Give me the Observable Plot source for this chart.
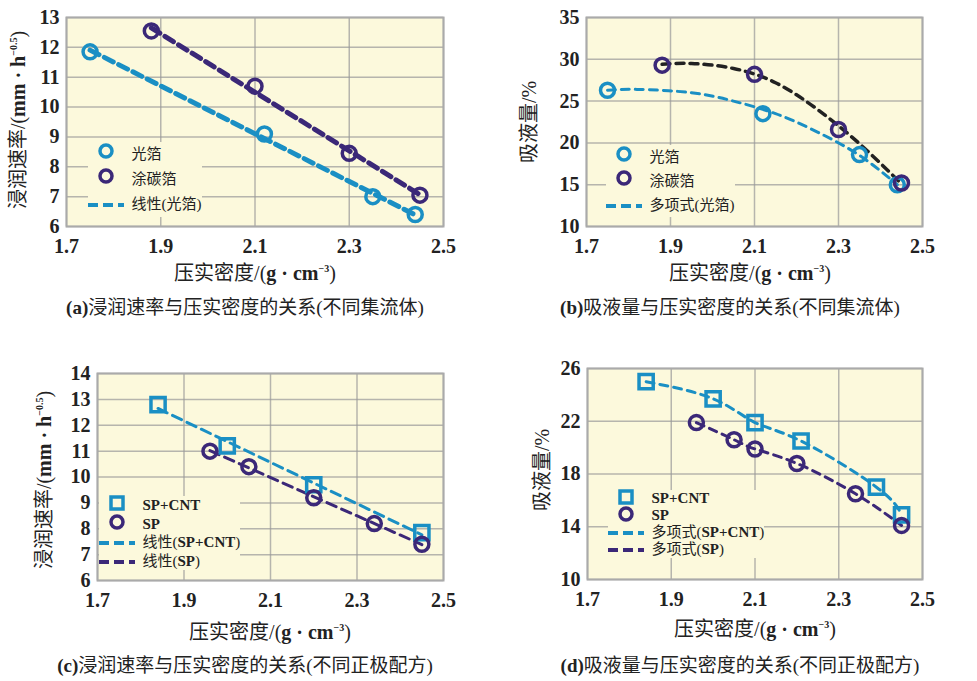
<!DOCTYPE html><html><head><meta charset="utf-8">
<script src="https://cdn.jsdelivr.net/npm/d3@7"></script>
<script src="https://cdn.jsdelivr.net/npm/@observablehq/plot@0.6"></script>
<style>
body{margin:0;background:#fff;font-family:"Liberation Serif","Noto Sans CJK SC",serif;}
#root{position:relative;width:977px;height:681px;}
.p{position:absolute;}
.t{position:absolute;white-space:nowrap;color:#222;font-family:"Liberation Serif","Noto Sans CJK SC",serif;}
.xl{font-size:20px;transform:translateX(-50%);}
.yl{font-size:20px;transform:translate(-50%,-50%) rotate(-90deg);}
.cap{font-size:19px;transform:translateX(-50%);}
.lg{position:absolute;background:#fcf9dc;font-size:15px;color:#222;}
.lg div{height:24px;line-height:24px;display:flex;align-items:center;}
.lg i{display:inline-block;width:36px;text-align:center;font-style:normal;}
</style></head><body><div id="root"></div>
<script>
const CYAN="#1a8fc4", PURPLE="#3b2878", BLACK="#222";
// (a)
const aFoilX=[1.75,2.12,2.35,2.44], aFoilY=[11.85,9.1,7.0,6.4];
const aCarbX=[1.88,2.1,2.3,2.45], aCarbY=[12.55,10.7,8.45,7.05];
// (b)
const bFoilX=[1.75,2.12,2.35,2.44], bFoilY=[26.3,23.5,18.6,15.0];
const bCarbX=[1.88,2.1,2.3,2.45], bCarbY=[29.3,28.2,21.6,15.2];
const bFitFoilX=[1.75,1.82,1.95,2.05,2.15,2.25,2.35,2.44], bFitFoilY=[26.3,26.4,26.0,25.0,23.5,21.3,18.5,15.0];
const bFitCarbX=[1.88,1.95,2.05,2.15,2.25,2.35,2.45], bFitCarbY=[29.4,29.5,28.9,27.2,24.0,19.9,15.1];
// (c)
const cCntX=[1.84,2.0,2.2,2.45], cCntY=[12.8,11.2,9.7,7.85];
const cSpX=[1.96,2.05,2.2,2.34,2.45], cSpY=[11.0,10.4,9.2,8.2,7.4];
// (d)
const dCntX=[1.84,2.0,2.1,2.21,2.39,2.45], dCntY=[25.0,23.7,21.9,20.5,17.0,14.9];
const dSpX=[1.96,2.05,2.1,2.2,2.34,2.45], dSpY=[21.9,20.6,19.9,18.8,16.5,14.1];
const xTicks=[1.7,1.9,2.1,2.3,2.5];

const zip=(xs,ys)=>xs.map((x,i)=>({x,y:ys[i]}));
const root=document.getElementById("root");
const M={l:60,r:30,t:15,b:35};
function panel(f,ydom,yticks,marks){
  const W=f.R-f.L+M.l+M.r,H=f.B-f.T+M.t+M.b;
  const svg=Plot.plot({width:W,height:H,marginLeft:M.l,marginRight:M.r,marginTop:M.t,marginBottom:M.b,
    style:{background:"transparent",fontFamily:"Liberation Serif",fontSize:"20px",fontWeight:"bold",color:"#222",overflow:"visible"},
    x:{domain:[1.7,2.5],ticks:xTicks,tickFormat:d3.format(".1f"),tickSize:0,tickPadding:12,label:null},
    y:{domain:ydom,ticks:yticks,tickFormat:d3.format("d"),tickSize:0,tickPadding:7,label:null},
    marks:[Plot.frame({fill:"#fcf9dc",stroke:"none"}),Plot.gridX(xTicks,{stroke:"#999",strokeOpacity:0.7,strokeWidth:1.5}),
      Plot.gridY(yticks,{stroke:"#999",strokeOpacity:0.7,strokeWidth:1.5}),Plot.frame({stroke:"#aaa",strokeWidth:2}),...marks]});
  svg.classList.add("p");svg.style.left=(f.L-M.l)+"px";svg.style.top=(f.T-M.t)+"px";
  root.appendChild(svg);
}
const circ=(d,c)=>Plot.dot(d,{x:"x",y:"y",r:7,stroke:c,strokeWidth:3.5,fill:"none"});
const sq=(d,c)=>Plot.dot(d,{x:"x",y:"y",r:8,symbol:"square",stroke:c,strokeWidth:3.5,fill:"none"});
const reg=(d,c,w)=>Plot.linearRegressionY(d,{x:"x",y:"y",stroke:c,strokeWidth:w,strokeDasharray:"10,6",ci:0});
const crv=(d,c,w)=>Plot.line(d,{x:"x",y:"y",stroke:c,strokeWidth:w,strokeDasharray:"8,6",curve:"natural"});

panel({L:66,R:443,T:17,B:226},[6,13],d3.range(6,14),
  [reg(zip(aFoilX,aFoilY),CYAN,5),reg(zip(aCarbX,aCarbY),PURPLE,5),circ(zip(aFoilX,aFoilY),CYAN),circ(zip(aCarbX,aCarbY),PURPLE)]);
panel({L:586,R:922,T:17,B:226},[10,35],d3.range(10,36,5),
  [crv(zip(bFitFoilX,bFitFoilY),CYAN,3),crv(zip(bFitCarbX,bFitCarbY),BLACK,3.5),circ(zip(bFoilX,bFoilY),CYAN),circ(zip(bCarbX,bCarbY),PURPLE)]);
panel({L:97,R:443,T:373,B:580},[6,14],d3.range(6,15),
  [reg(zip(cCntX,cCntY),CYAN,3),reg(zip(cSpX,cSpY),PURPLE,3),sq(zip(cCntX,cCntY),CYAN),circ(zip(cSpX,cSpY),PURPLE)]);
panel({L:587,R:922,T:368,B:579},[10,26],[10,14,18,22,26],
  [crv(zip(dCntX,dCntY),CYAN,3),crv(zip(dSpX,dSpY),PURPLE,3),sq(zip(dCntX,dCntY),CYAN),circ(zip(dSpX,dSpY),PURPLE)]);

function txt(cls,x,y,html){const d=document.createElement("div");d.className="t "+cls;d.style.left=x+"px";d.style.top=y+"px";d.innerHTML=html;root.appendChild(d);}
const xlab="压实密度/(<b>g · cm<sup style='font-size:10px'>−3</sup></b>)";
const ylab1="浸润速率/(<b>mm · h<sup style='font-size:10px'>−0.5</sup></b>)";
const ylab2="吸液量/%";
txt("xl",255,257,xlab);txt("xl",750,257,xlab);txt("xl",270,616,xlab);txt("xl",755,613,xlab);
txt("yl",16,120,ylab1);txt("yl",527,122,ylab2);txt("yl",42,480,ylab1);txt("yl",540,470,ylab2);
txt("cap",245,292,"<b>(a)</b>浸润速率与压实密度的关系(不同集流体)");
txt("cap",730,292,"<b>(b)</b>吸液量与压实密度的关系(不同集流体)");
txt("cap",245,650,"<b>(c)</b>浸润速率与压实密度的关系(不同正极配方)");
txt("cap",740,650,"<b>(d)</b>吸液量与压实密度的关系(不同正极配方)");

const O=c=>`<svg width="18" height="18"><circle cx="9" cy="9" r="6" fill="none" stroke="${c}" stroke-width="3.5"/></svg>`;
const S=c=>`<svg width="18" height="18"><rect x="3" y="3" width="12" height="12" fill="none" stroke="${c}" stroke-width="3.5"/></svg>`;
const L=c=>`<svg width="36" height="8"><line x1="0" y1="4" x2="36" y2="4" stroke="${c}" stroke-width="4" stroke-dasharray="10,5"/></svg>`;
function legend(x,y,rows,rh){const d=document.createElement("div");d.className="lg";d.style.left=x+"px";d.style.top=y+"px";
  d.innerHTML=rows.map(r=>`<div style="height:${rh}px;line-height:${rh}px"><i>${r[0]}</i>&nbsp;&nbsp;${r[1]}</div>`).join("");root.appendChild(d);}
legend(88,142,[[O(CYAN),"光箔"],[O(PURPLE),"涂碳箔"],[L(CYAN),"线性(光箔)"]],25);
legend(606,145,[[O(CYAN),"光箔"],[O(PURPLE),"涂碳箔"],[L(CYAN),"多项式(光箔)"]],24);
legend(99,496,[[S(CYAN),"<b>SP+CNT</b>"],[O(PURPLE),"<b>SP</b>"],[L(CYAN),"线性(<b>SP+CNT</b>)"],[L(PURPLE),"线性(<b>SP</b>)"]],18.5);
legend(608,490,[[S(CYAN),"<b>SP+CNT</b>"],[O(PURPLE),"<b>SP</b>"],[L(CYAN),"多项式(<b>SP+CNT</b>)"],[L(PURPLE),"多项式(<b>SP</b>)"]],17);
</script></body></html>
